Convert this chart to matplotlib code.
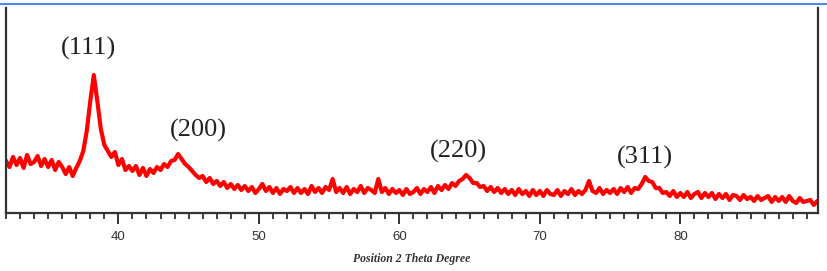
import numpy as np
import matplotlib
matplotlib.use("Agg")
import matplotlib.pyplot as plt
from matplotlib.lines import Line2D
from matplotlib.ticker import MultipleLocator

# Dados (2 theta de 32 a 90, passo 0.25)
theta_start = 32.0
theta_step = 0.25
intensity = [
    52, 46, 56, 48,  55, 45, 58, 49,  51, 57, 47, 54,  46, 53, 43, 51,   # 32-35
    46, 39, 46, 37,  45, 52, 62, 82,  112, 138, 112, 84,  68, 62, 56, 61,  # 36-39
    48, 54, 43, 47,  42, 47, 38, 45,  37, 44, 40, 46,  43, 49, 46, 52,   # 40-43
    53, 59, 54, 49,  46, 42, 38, 35,  37, 31, 35, 29,  32, 27, 31, 25,   # 44-47
    29, 24, 28, 23,  27, 22, 26, 20,  24, 29, 22, 26,  20, 25, 19, 24,   # 48-51
    22, 26, 20, 25,  20, 24, 19, 27,  21, 25, 20, 26,  23, 34, 21, 25,   # 52-55
    20, 26, 19, 24,  21, 27, 20, 25,  23, 20, 34, 21,  25, 19, 24, 20,   # 56-59
    23, 18, 24, 19,  21, 25, 19, 24,  21, 26, 20, 27,  23, 28, 24, 30,   # 60-63
    27, 32, 34, 38,  35, 30, 30, 26,  27, 22, 26, 21,  25, 20, 24, 19,   # 64-67
    23, 18, 24, 19,  22, 17, 23, 18,  22, 17, 23, 19,  18, 23, 17, 22,   # 68-71
    19, 24, 18, 22,  19, 23, 32, 22,  20, 25, 19, 23,  20, 24, 19, 25,   # 72-75
    21, 26, 20, 25,  24, 29, 36, 32,  31, 25, 25, 20,  21, 17, 22, 16,   # 76-79
    20, 16, 21, 15,  19, 21, 15, 20,  16, 20, 14, 19,  15, 19, 13, 18,   # 80-83
    17, 13, 18, 14,  16, 12, 17, 13,  15, 17, 11, 16,  12, 16, 11, 17,   # 84-87
    12, 10, 15, 11,  12, 13, 8, 12,  7,                                  # 88-90
]
theta = theta_start + theta_step * np.arange(len(intensity))

peak_labels = ["(111)", "(200)", "(220)", "(311)"]
peak_pos = [37.85, 45.7, 64.2, 77.5]
peak_height = [165, 83, 62, 56]

fig = plt.figure(figsize=(8.28, 2.71), dpi=100)
ax = fig.add_axes([6/828, 1 - 213/271, 812/828, 205/271])

ax.plot(theta, intensity, color="#ff0000", lw=3.0)

ax.set_xlim(32, 89.8)
ax.set_ylim(0, 205)

# Rótulos dos picos
for lab, px, py in zip(peak_labels, peak_pos, peak_height):
    ax.text(px, py, lab, ha="center", va="center", fontsize=19,
            family="Liberation Serif", color="#222222")

# Eixos
ax.xaxis.set_major_locator(MultipleLocator(10))
ax.xaxis.set_minor_locator(MultipleLocator(1))
ax.tick_params(axis="x", which="major", direction="out", length=8, width=1.4,
               labelsize=9.5, colors="#333333", pad=5)
ax.tick_params(axis="x", which="minor", direction="out", length=4, width=1.3,
               colors="#333333")
for lbl in ax.get_xticklabels():
    lbl.set_family("Liberation Sans")
ax.set_yticks([])
ax.spines["top"].set_visible(False)
for s in ["left", "bottom", "right"]:
    ax.spines[s].set_color("#333333")
    ax.spines[s].set_linewidth(1.6)

ax.set_xlabel("Position 2 Theta Degree", fontsize=8.5, family="Liberation Serif",
              style="italic", weight="bold", color="#333333", labelpad=7)

# Linha azul no topo
fig.add_artist(Line2D([0, 1], [1 - 4/271, 1 - 4/271], color="#4a86e8", lw=1.5))

fig.savefig("out.png", dpi=100)
